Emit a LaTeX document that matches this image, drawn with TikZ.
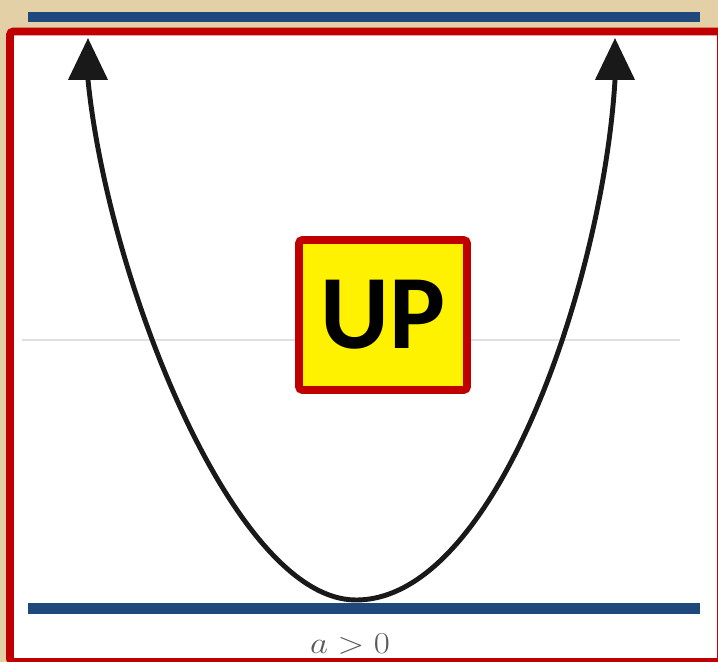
\documentclass[tikz,border=0pt]{standalone}
\usepackage{fontspec}
\newfontfamily\boxfont{Carlito}
\usepackage{xcolor}
\usepackage{tikz}
\usetikzlibrary{arrows.meta,positioning,calc}
\definecolor{parch}{RGB}{228,208,166}
\definecolor{frame}{RGB}{192,0,0}
\definecolor{bar}{RGB}{31,73,125}

\begin{document}
\begin{tikzpicture}[x=0.02cm,y=-0.02cm,
  panel/.style={draw=frame,line width=4.5pt,fill=white,rounded corners=2pt},
  bar/.style={draw=bar,line width=6.2pt},
  axis/.style={draw=black!12,line width=0.8pt},
  curve/.style={line width=2.8pt,black!90,{Triangle[length=23.8pt,width=22pt]}-{Triangle[length=23.8pt,width=22pt]}},
  tag/.style={rectangle,draw=frame,fill=yellow,line width=4.5pt,rounded corners=2pt,
    minimum width=3.36cm,minimum height=3.0cm,inner sep=0pt,font=\boxfont\bfseries\fontsize{60}{60}\selectfont}]
\useasboundingbox[fill=parch] (0,0) rectangle (718,662);
\draw[panel] (10,31.5) rectangle (721,662);
\draw[bar] (28,17) -- (700,17);
\draw[bar] (28,608.5) -- (700,608.5);
\draw[axis] (22,340) -- (680,340);
% parabola, opens up
\coordinate (vtx) at (356,600);
\draw[curve] (88,38) -- (88,80) .. controls (108,280) and (234,600) .. (vtx)
  .. controls (496,600) and (603,280) .. (615,80) -- (615,38);
\node[tag] (up) at (383,315) {UP};
\node[anchor=base,text=black!65,font=\fontsize{18}{20}\selectfont] (lbl) at (350,654) {\scalebox{1.15}[1]{$a>0$}};
\end{tikzpicture}
\end{document}
